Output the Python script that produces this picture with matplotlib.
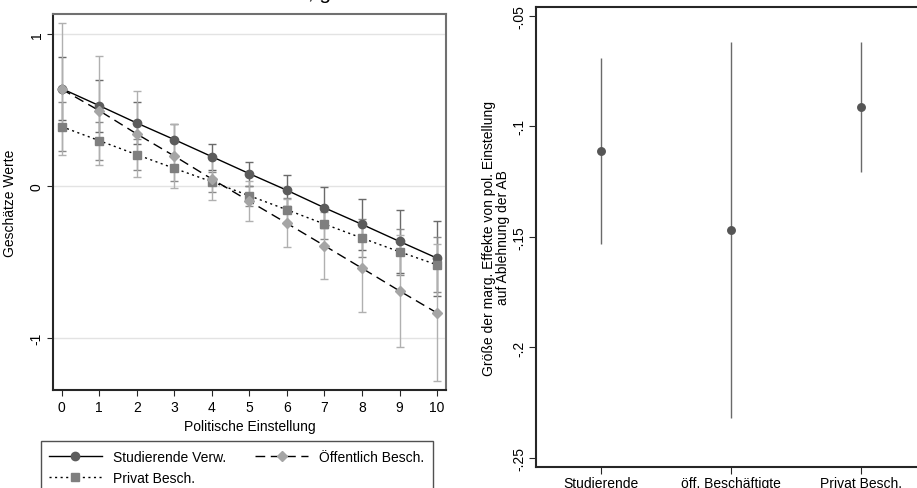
import matplotlib
matplotlib.use("Agg")
import matplotlib.pyplot as plt
from matplotlib.lines import Line2D
import numpy as np

plt.rcParams['font.family'] = ['Liberation Sans', 'DejaVu Sans']

# ---------------- data ----------------
x_vals = list(range(11))
x_ticklabels = [str(v) for v in x_vals]

stud_mean = [0.64, 0.528, 0.414, 0.305, 0.193, 0.081, -0.028, -0.143, -0.252, -0.364, -0.474]
stud_half = [0.207, 0.17, 0.14, 0.105, 0.085, 0.08, 0.10, 0.135, 0.168, 0.206, 0.246]

oeff_mean = [0.636, 0.495, 0.342, 0.197, 0.046, -0.10, -0.245, -0.392, -0.54, -0.689, -0.834]
oeff_half = [0.435, 0.36, 0.285, 0.21, 0.14, 0.13, 0.158, 0.222, 0.29, 0.368, 0.45]

priv_mean = [0.39, 0.298, 0.206, 0.116, 0.028, -0.064, -0.156, -0.25, -0.342, -0.432, -0.518]
priv_half = [0.16, 0.125, 0.10, 0.08, 0.065, 0.065, 0.08, 0.10, 0.125, 0.15, 0.18]

left_yticks = [1, 0, -1]
left_yticklabels = ['1', '0', '-1']

groups = ['Studierende', 'öff. Beschäftigte', 'Privat Besch.']
eff = [-0.1112, -0.1471, -0.0911]
eff_hi = [-0.0693, -0.0618, -0.0618]
eff_lo = [-0.1532, -0.2317, -0.1205]

right_yticks = [-0.05, -0.1, -0.15, -0.2, -0.25]
right_yticklabels = ['-.05', '-.1', '-.15', '-.2', '-.25']

series_names = ['Studierende Verw.', 'Öffentlich Besch.', 'Privat Besch.']

# ---------------- figure ----------------
W, H = 917, 489
fig = plt.figure(figsize=(W / 100, H / 100), dpi=100)

def ax_rect(l, t, r, b):
    return [l / W, 1 - b / H, (r - l) / W, (b - t) / H]

FS = 10
dark = '#262626'

# ---- left panel ----
ax = fig.add_axes(ax_rect(53.3, 15, 445.7, 391))
ax.set_xlim(-0.224, 10.23)
ax.set_ylim(-1.34, 1.13)
for yv in left_yticks:
    ax.axhline(yv, color='#e3e3e3', lw=1.0, zorder=0)

ax.errorbar(x_vals, stud_mean, yerr=stud_half, fmt='none', ecolor='#6a6a6a',
            elinewidth=1.0, capsize=3, capthick=1.0, zorder=2)
ax.errorbar(x_vals, priv_mean, yerr=priv_half, fmt='none', ecolor='#8a8a8a',
            elinewidth=1.0, capsize=3, capthick=1.0, zorder=2)
ax.errorbar(x_vals, oeff_mean, yerr=oeff_half, fmt='none', ecolor='#b0b0b0',
            elinewidth=1.0, capsize=3, capthick=1.0, zorder=2.1)

ax.plot(x_vals, stud_mean, color='black', lw=1.0, ls='-', zorder=3)
ax.plot(x_vals, oeff_mean, color='black', lw=1.0, ls=(0, (7, 4)), zorder=3)
ax.plot(x_vals, priv_mean, color='black', lw=1.0, ls=(0, (1.5, 2.5)), zorder=3)

ax.plot(x_vals, stud_mean, ls='none', marker='o', ms=6, color='#5c5c5c', zorder=4)
ax.plot(x_vals, priv_mean, ls='none', marker='s', ms=6, color='#7f7f7f', zorder=4)
ax.plot(x_vals, oeff_mean, ls='none', marker='D', ms=5.5, color='#a5a5a5', zorder=4.1)

ax.set_xticks(x_vals)
ax.set_xticklabels(x_ticklabels, fontsize=FS)
ax.set_yticks(left_yticks)
ax.set_yticklabels(left_yticklabels, fontsize=FS, rotation=90, va='center')
ax.tick_params(axis='both', length=4, width=0.8, color=dark, pad=3)
ax.set_xlabel('Politische Einstellung', fontsize=FS, labelpad=4)
ax.set_ylabel('Geschätze Werte', fontsize=FS, labelpad=9)
for s in ['left', 'bottom']:
    ax.spines[s].set_color(dark)
    ax.spines[s].set_linewidth(1.5)
for s in ['top', 'right']:
    ax.spines[s].set_color('#707070')
    ax.spines[s].set_linewidth(1.5)

handles = [
    Line2D([], [], color='black', lw=1.0, ls='-', marker='o', ms=6,
           mfc='#5c5c5c', mec='#5c5c5c'),
    Line2D([], [], color='black', lw=1.0, ls=(0, (7, 4)), marker='D', ms=5.5,
           mfc='#a5a5a5', mec='#a5a5a5'),
    Line2D([], [], color='black', lw=1.0, ls=(0, (1.5, 2.5)), marker='s', ms=6,
           mfc='#7f7f7f', mec='#7f7f7f'),
]
order = [0, 2, 1]
leg = fig.legend([handles[i] for i in order], [series_names[i] for i in order],
                 loc='upper left', bbox_to_anchor=(40.7 / W, 1 - 442.3 / H),
                 ncol=2, fontsize=FS, frameon=True, fancybox=False,
                 edgecolor=dark, handlelength=3.8, handletextpad=0.8,
                 columnspacing=2.1, borderpad=0.6, labelspacing=0.5,
                 borderaxespad=0)
leg.get_frame().set_linewidth(1.0)

# ---- right panel ----
ax2 = fig.add_axes(ax_rect(536, 8.3, 926, 467.7))
ax2.set_xlim(0.5, 3.5)
ax2.set_ylim(-0.2539, -0.0462)
pos = [1, 2, 3]
ax2.vlines(pos, eff_lo, eff_hi, color='#6a6a6a', lw=1.0, zorder=2)
ax2.plot(pos, eff, ls='none', marker='o', ms=5.4, color='#555555', zorder=3)
ax2.set_xticks(pos)
ax2.set_xticklabels(groups, fontsize=FS)
ax2.set_yticks(right_yticks)
ax2.set_yticklabels(right_yticklabels, fontsize=FS, rotation=90, va='center')
ax2.tick_params(axis='both', length=5, width=0.8, color=dark, pad=2)
ax2.set_ylabel('Größe der marg. Effekte von pol. Einstellung\nauf Ablehnung der AB',
               fontsize=FS, labelpad=2, linespacing=0.95)
for s in ['left', 'bottom', 'top']:
    ax2.spines[s].set_color(dark)
    ax2.spines[s].set_linewidth(1.5)
ax2.spines['right'].set_visible(False)

# cropped title fragment at top edge
fig.text(308 / W, 1.003, ', g', ha='left', va='baseline', fontsize=15)

fig.savefig('out.png', dpi=100)
